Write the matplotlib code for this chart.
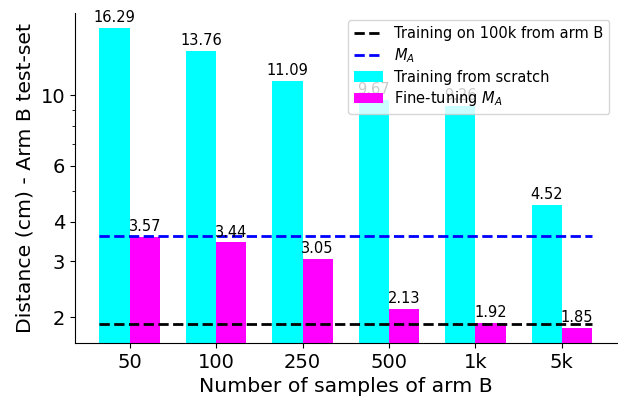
import matplotlib
matplotlib.use('Agg')
import matplotlib.pyplot as plt
from matplotlib.ticker import FixedLocator, FixedFormatter, LogLocator, NullFormatter
import numpy as np

# data
categories = ['50', '100', '250', '500', '1k', '5k']
scratch = [16.29, 13.76, 11.09, 9.67, 9.26, 4.52]
finetune = [3.57, 3.44, 3.05, 2.13, 1.92, 1.85]
full_training = 1.90   # training on 100k from arm B
model_a = 3.61         # M_A
yTicks = [2, 3, 4, 6, 10]

dpi = 100
fig = plt.figure(figsize=(6.18, 3.97), dpi=dpi)
ax = fig.add_axes([0.121, 0.136, 0.877, 0.831])

x = np.arange(len(categories))
width = 0.35

ax.hlines(full_training, x[0] - width, x[-1] + width, colors='black',
          linestyles='dashed', linewidth=2, label='Training on 100k from arm B', zorder=3)
ax.hlines(model_a, x[0] - width, x[-1] + width, colors='blue',
          linestyles='dashed', linewidth=2, label='$M_A$', zorder=3)
b1 = ax.bar(x - width / 2, scratch, width, color='cyan', label='Training from scratch')
b2 = ax.bar(x + width / 2, finetune, width, color='magenta', label='Fine-tuning $M_A$')
ax.bar_label(b1, fmt='%.2f', padding=2, fontsize=10.5)
ax.bar_label(b2, fmt='%.2f', padding=2, fontsize=10.5)

ax.set_yscale('log')
ax.set_ylim(1.66, 18.1)
ax.yaxis.set_major_locator(FixedLocator(yTicks))
ax.yaxis.set_major_formatter(FixedFormatter([str(t) for t in yTicks]))
ax.yaxis.set_minor_locator(LogLocator(base=10, subs=np.arange(2, 10)))
ax.yaxis.set_minor_formatter(NullFormatter())

ax.set_xticks(x)
ax.set_xticklabels(categories)
ax.tick_params(axis='both', which='major', labelsize=14)
ax.set_xlabel('Number of samples of arm B', fontsize=14.7)
ax.set_ylabel('Distance (cm) - Arm B test-set', fontsize=14.7)

ax.spines['top'].set_visible(False)
ax.spines['right'].set_visible(False)

ax.legend(loc='upper right', fontsize=10.5, labelspacing=0.33)

fig.savefig('out.png', dpi=dpi)
